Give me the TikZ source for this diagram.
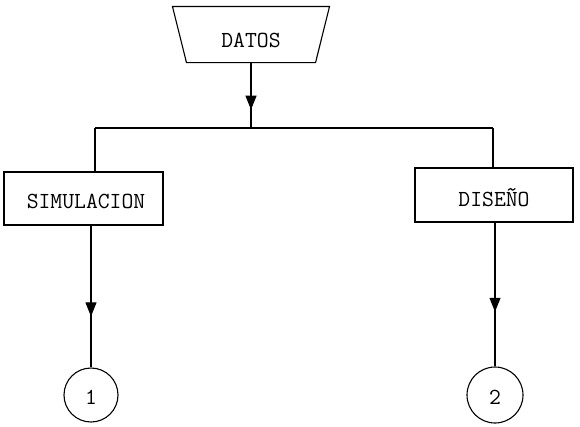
\documentclass[tikz,border=0pt]{standalone}
\usetikzlibrary{arrows.meta,decorations.markings}
\begin{document}
\begin{tikzpicture}[x=1pt,y=-1pt,
  line width=1.1pt,
  every node/.style={font=\fontsize{23}{27}\ttfamily},
  box/.style={draw,rectangle,inner sep=0pt},
  iobody/.style={rectangle,inner sep=0pt,minimum width=128pt,minimum height=55pt},
  conn/.style={draw,circle,inner sep=0pt},
  midarrow/.style={postaction={decorate},decoration={markings,
    mark=at position #1 with {\arrow{Triangle[length=14pt,width=11pt]}}}}
]
\useasboundingbox (0,0) rectangle (580,426);
\node[iobody] (datos) at (251,34.5) {};
\draw ([xshift=-14pt]datos.north west) -- ([xshift=14pt]datos.north east)
  -- (datos.south east) -- (datos.south west) -- cycle;
\node (datost) at (251,40) {DATOS};
\node[box,minimum width=159pt,minimum height=53pt] (sim) at (83.5,198.5) {};
\node (simt) at (86,201) {SIMULACION};
\node[box,minimum width=158pt,minimum height=54pt] (dis) at (494,195) {};
\node (dist) at (494,198) {DISEÑO};
\node[conn,minimum size=54pt] (c1) at (91,395) {};
\node (c1t) at (91,397) {1};
\node[conn,minimum size=56pt] (c2) at (495,395) {};
\node (c2t) at (495,397) {2};
\coordinate (j) at (251,128);
\coordinate (lt) at (95,128);
\coordinate (rt) at (493,128);
\draw[midarrow=0.72] (datos.south) -- (j);
\draw (lt) -- (rt);
\draw (lt) -- (lt |- sim.north);
\draw (rt) -- (rt |- dis.north);
\draw[midarrow=0.64] (c1 |- sim.south) -- (c1.north);
\draw[midarrow=0.62] (c2 |- dis.south) -- (c2.north);
\end{tikzpicture}
\end{document}
